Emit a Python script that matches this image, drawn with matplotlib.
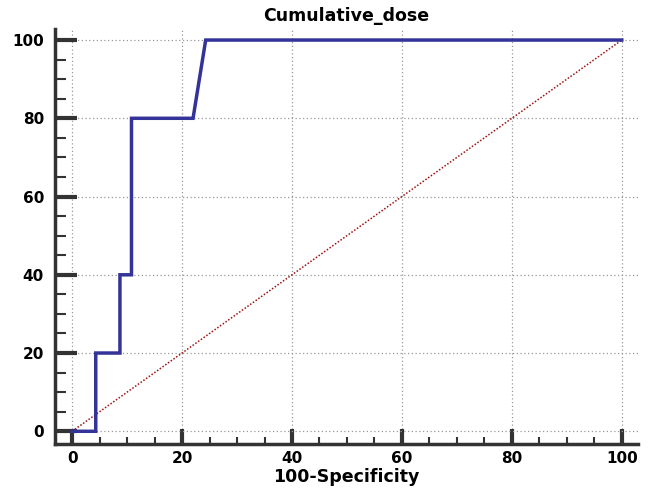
import matplotlib.pyplot as plt
from matplotlib.ticker import MultipleLocator

plt.rcParams["font.family"] = ["DejaVu Sans"]
plt.rcParams["font.weight"] = "bold"

# ROC curve points (100-Specificity, Sensitivity)
fpr = [0, 4.3, 4.3, 8.7, 8.7, 10.8, 10.8, 22.0, 24.3, 100]
tpr = [0, 0, 20, 20, 40, 40, 80, 80, 100, 100]
diag = [0, 100]
ticks = [0, 20, 40, 60, 80, 100]

fig = plt.figure(figsize=(6.48, 4.93), dpi=100)
ax = fig.add_axes([0.085, 0.099, 0.9, 0.842])

# reference diagonal
ax.plot(diag, diag, ls=(0, (1, 1.2)), lw=1.1, color="#a01010")
# ROC curve
ax.plot(fpr, tpr, lw=2.5, color="#333399", solid_joinstyle="miter")

ax.set_xlim(-3.1, 103)
ax.set_ylim(-3.3, 102.8)
ax.set_xticks(ticks)
ax.set_yticks(ticks)
ax.xaxis.set_minor_locator(MultipleLocator(5))
ax.yaxis.set_minor_locator(MultipleLocator(5))
ax.grid(True, which="major", ls=(0, (1, 2)), color="#999999", lw=0.9)

for s in ["top", "right"]:
    ax.spines[s].set_visible(False)
for s in ["left", "bottom"]:
    ax.spines[s].set_color("#333333")
    ax.spines[s].set_linewidth(2.5)

ax.tick_params(which="major", direction="in", length=16, width=3, color="#333333",
               labelsize=11, pad=8)
ax.tick_params(axis="x", which="major", length=11, pad=5)
ax.tick_params(which="minor", direction="in", length=8, width=1.5, color="#333333")
ax.tick_params(axis="x", which="minor", length=5)

ax.set_title("Cumulative_dose", fontsize=12.5, fontweight="bold", pad=6)
ax.set_xlabel("100-Specificity", fontsize=12.5, fontweight="bold", labelpad=1)

plt.savefig("out.png", dpi=100)
